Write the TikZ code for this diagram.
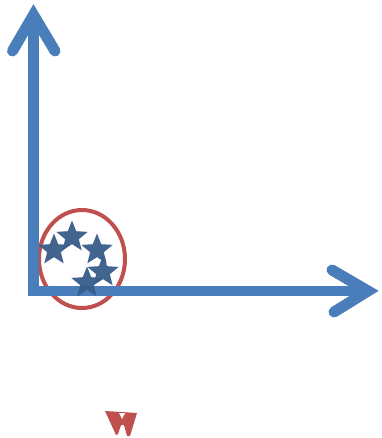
\documentclass[tikz,border=0pt]{standalone}
\usetikzlibrary{shapes.geometric}
\definecolor{axisblue}{HTML}{4A7EBB}
\definecolor{starblue}{HTML}{385D8A}
\definecolor{ringred}{HTML}{C0504D}
\begin{document}
\begin{tikzpicture}[x=1pt,y=-1pt,
  axis/.style={draw=axisblue,line width=10.5pt},
  chevron/.style={draw=axisblue,line width=11pt,line cap=round,line join=miter},
  starnode/.style={star,star points=5,star point ratio=2.3,minimum size=33pt,inner sep=0pt,fill=starblue,fill opacity=0.95,draw=none},
  ring/.style={draw=ringred,line width=4pt}]
\useasboundingbox (0,0) rectangle (381,438);
% coordinates
\coordinate (origin) at (33.5,296);
\coordinate (ytop) at (33.5,15);
\coordinate (yl) at (12.5,51);
\coordinate (yr) at (55,51);
\coordinate (hstart) at (34,291);
\coordinate (xend) at (368,291);
\coordinate (xu) at (332,270);
\coordinate (xd) at (334,312);
% ring
\node[ring,ellipse,minimum width=86pt,minimum height=98pt,inner sep=0pt] (c) at (82,259) {};
% axes
\draw[axis] (origin) -- (ytop);
\draw[chevron] (yl) -- (ytop) -- (yr);
\draw[axis] (hstart) -- (xend);
\draw[chevron] (xu) -- (xend) -- (xd);
% stars
\node[starnode] (s1) at (54,250) {};
\node[starnode] (s2) at (72,237) {};
\node[starnode] (s3) at (97,250) {};
\node[starnode] (s4) at (103,272) {};
\node[starnode] (s5) at (87,283) {};
% red mark at bottom
\fill[ringred] (105,411) -- (137,413) -- (130,436) -- (127,436) -- (124,425)
  -- (121,425) -- (118,434) -- (116,435) -- cycle;
\fill[white] (119,413) -- (125,413) -- (122,419) -- cycle;
\end{tikzpicture}
\end{document}
